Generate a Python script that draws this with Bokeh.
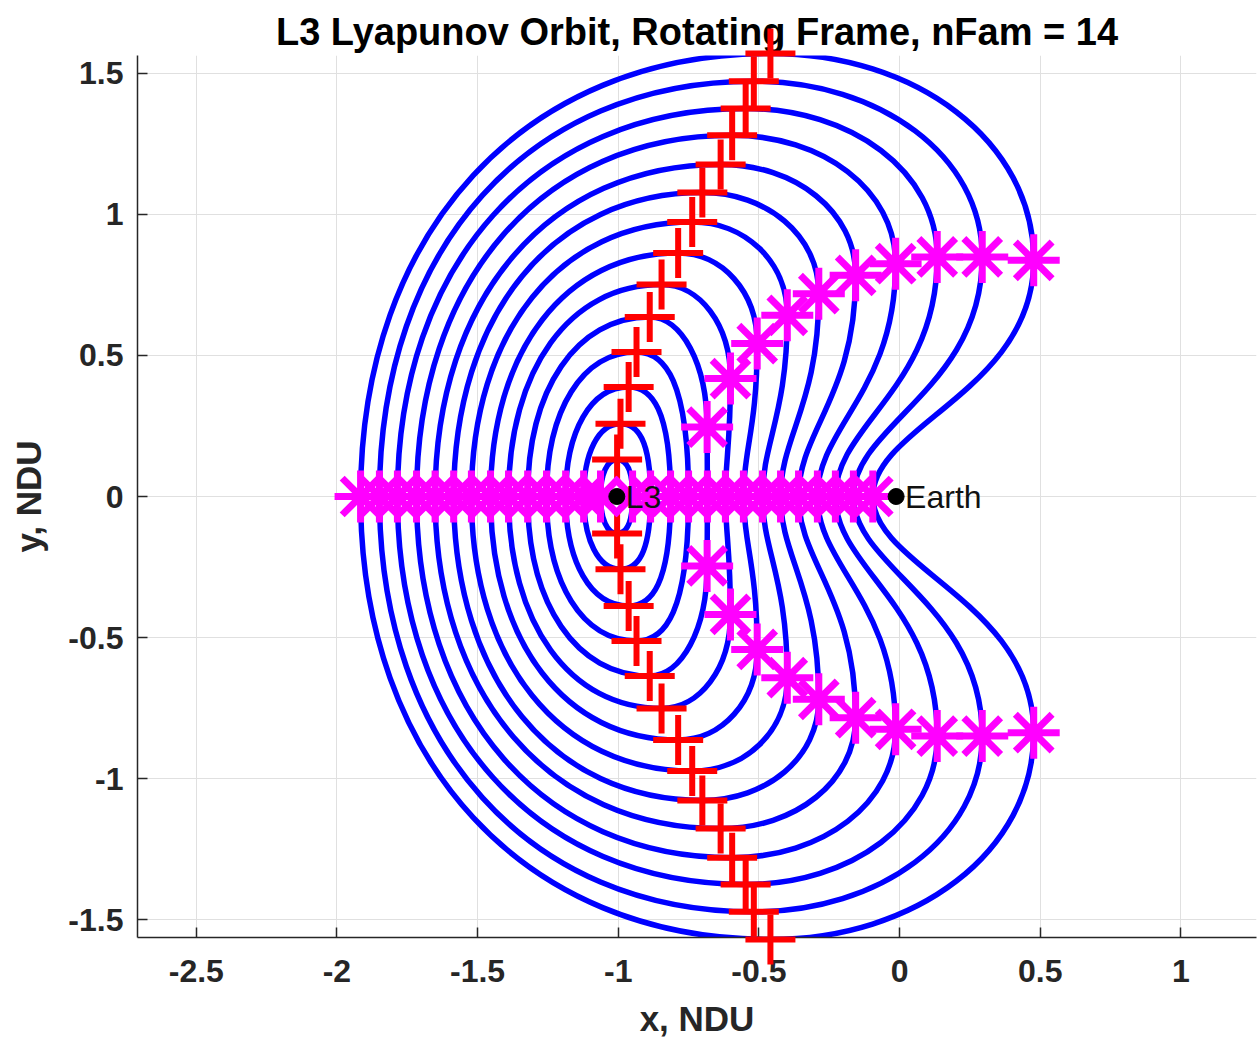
from bokeh.plotting import figure
from bokeh.models import Range1d, FixedTicker, ColumnDataSource
from bokeh.core.properties import value
from bokeh.embed import file_html
from bokeh.resources import INLINE

# ---------------- data ----------------
title_text = "L3 Lyapunov Orbit, Rotating Frame, nFam = 14"
x_label = "x, NDU"
y_label = "y, NDU"

# 14 family members, innermost first
x_left = [-1.063, -1.123, -1.187, -1.255, -1.322, -1.390, -1.454,
          -1.522, -1.585, -1.651, -1.717, -1.785, -1.849, -1.916]
x_right = [-0.949, -0.885, -0.814, -0.750, -0.683, -0.619, -0.555,
           -0.487, -0.423, -0.359, -0.292, -0.228, -0.164, -0.095]
top_x = [-1.004, -0.992, -0.963, -0.935, -0.888, -0.846, -0.787,
         -0.737, -0.701, -0.636, -0.595, -0.547, -0.518, -0.459]
top_y = [0.131, 0.258, 0.388, 0.512, 0.636, 0.751, 0.863,
         0.973, 1.077, 1.177, 1.280, 1.375, 1.472, 1.570]
# local max-x points on the right side (only members 5..14 have them)
mx_x = [None, None, None, None, -0.684, -0.601, -0.506,
        -0.399, -0.287, -0.156, -0.014, 0.134, 0.294, 0.477]
mx_y = [None, None, None, None, 0.246, 0.418, 0.542,
        0.642, 0.719, 0.784, 0.825, 0.849, 0.849, 0.837]

point_names = ["L3", "Earth"]
point_x = [-1.00506, -0.01215]
point_y = [0.0, 0.0]

x_ticks = [-2.5, -2, -1.5, -1, -0.5, 0, 0.5, 1]
x_tick_labels = ["-2.5", "-2", "-1.5", "-1", "-0.5", "0", "0.5", "1"]
y_ticks = [-1.5, -1, -0.5, 0, 0.5, 1, 1.5]
y_tick_labels = ["-1.5", "-1", "-0.5", "0", "0.5", "1", "1.5"]

x_lim = (-2.709, 1.269)
y_lim = (-1.563, 1.563)

# ---------------- style constants ----------------
K_LEFT = 0.60     # handle fraction for the left quarter arcs
K_TOP = 0.55      # horizontal handle fraction leaving the top point
K_SIDE = 0.80     # vertical handle fraction arriving at the right crossing (inner members)
K_SIDE_MX = 0.58  # vertical handle fraction arriving at the max-x point
S_UP = 0.55       # S-curve handle below the max-x point (fraction of its y)
S_LOW = 0.30      # S-curve handle above the right crossing (fraction of max-x y)
FONT = "Liberation Sans"

# ---------------- build bezier segments from key points ----------------
cols = {k: [] for k in ["x0", "y0", "x1", "y1", "cx0", "cy0", "cx1", "cy1"]}


def add_seg(p0, c0, c1, p1):
    for s in (1, -1):
        cols["x0"].append(p0[0]); cols["y0"].append(s * p0[1])
        cols["cx0"].append(c0[0]); cols["cy0"].append(s * c0[1])
        cols["cx1"].append(c1[0]); cols["cy1"].append(s * c1[1])
        cols["x1"].append(p1[0]); cols["y1"].append(s * p1[1])


for xl, xr, xt, yt, xm, ym in zip(x_left, x_right, top_x, top_y, mx_x, mx_y):
    add_seg((xl, 0.0), (xl, K_LEFT * yt), (xt - K_LEFT * (xt - xl), yt), (xt, yt))
    if xm is None:
        add_seg((xt, yt), (xt + K_TOP * (xr - xt), yt), (xr, K_SIDE * yt), (xr, 0.0))
    else:
        add_seg((xt, yt), (xt + K_TOP * (xm - xt), yt), (xm, ym + K_SIDE_MX * (yt - ym)), (xm, ym))
        add_seg((xm, ym), (xm, ym - S_UP * ym), (xr, S_LOW * ym), (xr, 0.0))

orbit_src = ColumnDataSource(cols)

plus_src = ColumnDataSource(dict(x=top_x + top_x, y=top_y + [-v for v in top_y]))
mx_px = [v for v in mx_x if v is not None]
mx_py = [v for v in mx_y if v is not None]
star_src = ColumnDataSource(dict(
    x=x_left + x_right + mx_px + mx_px,
    y=[0.0] * (len(x_left) + len(x_right)) + mx_py + [-v for v in mx_py]))
pt_src = ColumnDataSource(dict(x=point_x, y=point_y, name=point_names))

# ---------------- figure ----------------
p = figure(width=1257, height=1044, x_range=Range1d(*x_lim), y_range=Range1d(*y_lim),
           output_backend="svg", toolbar_location=None,
           min_border_left=137, min_border_right=1, min_border_top=55, min_border_bottom=107)
p.outline_line_color = None
p.background_fill_color = "white"
p.border_fill_color = "white"

p.bezier(x0="x0", y0="y0", x1="x1", y1="y1", cx0="cx0", cy0="cy0", cx1="cx1", cy1="cy1",
         source=orbit_src, line_color="#0000ff", line_width=5.5, line_cap="round")
p.scatter(x="x", y="y", source=plus_src, marker="cross", size=50,
          line_color="#ff0000", line_width=6, level="overlay")
p.scatter(x="x", y="y", source=star_src, marker="asterisk", size=52,
          line_color="#ff00ff", line_width=7, level="overlay")
p.scatter(x="x", y="y", source=pt_src, marker="circle", size=16,
          fill_color="black", line_color="black", level="overlay")
p.text(x="x", y="y", text="name", source=pt_src, x_offset=9, text_baseline="middle",
       text_align="left", text_font=value(FONT), text_font_size=value("32px"),
       text_color="#111111", level="overlay")

# axes
p.xaxis.ticker = FixedTicker(ticks=x_ticks)
p.yaxis.ticker = FixedTicker(ticks=y_ticks)
p.xaxis.major_label_overrides = {float(t): s for t, s in zip(x_ticks, x_tick_labels)}
p.yaxis.major_label_overrides = {float(t): s for t, s in zip(y_ticks, y_tick_labels)}
p.xaxis.axis_label = x_label
p.yaxis.axis_label = y_label
for ax in (p.xaxis[0], p.yaxis[0]):
    ax.axis_line_color = "#262626"
    ax.axis_line_width = 1.5
    ax.major_tick_line_color = "#262626"
    ax.major_tick_line_width = 1.5
    ax.major_tick_in = 10
    ax.major_tick_out = 0
    ax.minor_tick_line_color = None
    ax.major_label_text_font = FONT
    ax.major_label_text_font_size = "32px"
    ax.major_label_text_font_style = "bold"
    ax.major_label_text_color = "#262626"
    ax.axis_label_text_font = FONT
    ax.axis_label_text_font_size = "35px"
    ax.axis_label_text_font_style = "bold"
    ax.axis_label_text_color = "#262626"
p.xaxis.major_label_standoff = 22
p.yaxis.major_label_standoff = 14
p.xaxis.axis_label_standoff = 14
p.yaxis.axis_label_standoff = 17

p.grid.grid_line_color = "#e0e0e0"
p.grid.grid_line_width = 1

p.title.text = title_text
p.title.align = "center"
p.title.text_font = FONT
p.title.text_font_size = "38px"
p.title.text_font_style = "bold"
p.title.text_color = "black"
p.title.standoff = 6

open("out.html", "w").write(file_html(p, INLINE))
